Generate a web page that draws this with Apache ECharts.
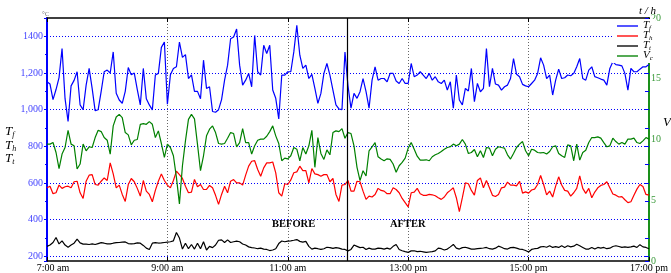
<!DOCTYPE html>
<html>
<head>
<meta charset="utf-8">
<script src="https://cdn.jsdelivr.net/npm/echarts@6/dist/echarts.min.js"></script>
<style>
html, body { margin: 0; padding: 0; background: #fff; }
#chart { width: 671px; height: 273px; }
</style>
</head>
<body>
<div id="chart"></div>
<script>
// samples every 3 minutes from 7:00 to 17:00
const STEP = 3
const xLabels = ['7:00 am', '9:00 am', '11:00 am', '13:00 pm', '15:00 pm', '17:00 pm']
const leftLabels = { 200: '200', 400: '400', 600: '600', 800: '800', 1000: '1,000', 1200: '1,200', 1400: '1400' }
const splitAt = 299 // minute of the before / after line

// T_f  (left axis, °C)
const Tf = [
  1152, 1140, 1055, 1110, 1175, 1333, 1060, 936, 1130, 1160,
  1207, 1026, 1000, 1134, 1225, 1116, 994, 1000, 1100, 1207,
  1216, 1200, 1315, 1090, 1053, 1035, 1100, 1230, 1190, 1200,
  1110, 1026, 1225, 1060, 1026, 999, 1189, 1198, 1340, 1369,
  1030, 1190, 1225, 1234, 1369, 1285, 1300, 1170, 1190, 1100,
  1100, 1060, 1270, 1116, 1125, 990, 986, 1000, 1055, 1161,
  1243, 1387, 1396, 1440, 1243, 1134, 1161, 1198, 1125, 1405,
  1207, 1189, 1351, 1306, 1351, 1107, 1062, 950, 1189, 1189,
  1207, 1207, 1315, 1460, 1297, 1225, 1243, 1170, 1193, 1116,
  1035, 1089, 1198, 1252, 1189, 1107, 1026, 1004, 1000, 1315,
  1130, 1008, 1089, 1062, 1098, 1170, 1098, 1008, 1161, 1234,
  1161, 1170, 1170, 1152, 1198, 1198, 1156, 1143, 1170, 1143,
  1143, 1252, 1180, 1189, 1207, 1189, 1170, 1198, 1161, 1180,
  1152, 1143, 1161, 1107, 1152, 1008, 1189, 1053, 1026, 1116,
  1102, 1225, 1044, 1143, 1098, 1116, 1333, 1125, 1225, 1140,
  1134, 1107, 1125, 1134, 1170, 1279, 1193, 1180, 1138, 1130,
  1125, 1143, 1161, 1198, 1283, 1243, 1170, 1189, 1080, 1161,
  1221, 1170, 1174, 1189, 1185, 1198, 1234, 1279, 1170, 1161,
  1216, 1234, 1180, 1174, 1167, 1161, 1134, 1225, 1261, 1246,
  1243, 1239, 1198, 1107, 1225, 1207, 1207, 1221, 1234, 1234,
  1246
]

// T_h  (left axis, °C)
const Th = [
  574, 583, 542, 547, 589, 571, 580, 583, 574, 607,
  610, 547, 516, 610, 643, 646, 592, 589, 610, 628,
  614, 710, 650, 574, 589, 538, 500, 592, 625, 607,
  571, 529, 614, 556, 538, 498, 560, 610, 650, 614,
  589, 574, 614, 665, 646, 625, 583, 547, 551, 620,
  580, 592, 565, 565, 587, 574, 533, 484, 538, 583,
  547, 610, 619, 601, 601, 589, 643, 692, 719, 722,
  674, 637, 683, 710, 710, 715, 656, 547, 529, 596,
  592, 617, 656, 661, 692, 668, 668, 601, 679, 650,
  646, 637, 646, 646, 607, 625, 538, 500, 589, 592,
  614, 556, 556, 610, 607, 556, 511, 529, 524, 538,
  571, 560, 556, 542, 542, 574, 565, 547, 516, 493,
  470, 547, 551, 571, 542, 533, 533, 538, 536, 531,
  520, 511, 524, 547, 560, 574, 520, 444, 520, 601,
  596, 560, 534, 614, 628, 574, 614, 574, 533, 527,
  538, 574, 578, 605, 589, 589, 585, 610, 545, 552,
  545, 562, 567, 592, 641, 592, 536, 556, 524, 583,
  634, 589, 560, 556, 529, 547, 571, 639, 571, 544,
  571, 520, 551, 574, 587, 592, 607, 574, 540, 534,
  524, 526, 509, 493, 498, 534, 567, 592, 581, 538,
  534
]

// T_t  (left axis, °C)
const Tt = [
  255, 262, 276, 303, 268, 285, 262, 250, 262, 272,
  294, 274, 267, 267, 265, 268, 265, 270, 275, 272,
  268, 268, 272, 275, 276, 278, 279, 270, 268, 270,
  274, 272, 260, 245, 238, 272, 275, 273, 274, 276,
  278, 280, 285, 330, 300, 240, 272, 242, 265, 240,
  272, 242, 280, 235, 255, 248, 262, 288, 290, 276,
  290, 276, 280, 283, 280, 268, 262, 252, 248, 246,
  242, 245, 240, 238, 232, 235, 242, 270, 284, 280,
  283, 285, 288, 292, 282, 278, 282, 255, 240, 245,
  242, 238, 242, 250, 248, 244, 248, 245, 240, 238,
  230, 238, 262, 255, 248, 250, 238, 245, 240, 240,
  245, 244, 240, 245, 240, 255, 265, 238, 231, 226,
  222, 230, 231, 226, 228, 225, 222, 224, 226, 230,
  245, 242, 235, 240, 252, 265, 245, 240, 248, 250,
  245, 240, 240, 242, 244, 246, 249, 242, 240, 245,
  256, 250, 242, 240, 248, 249, 245, 240, 238, 232,
  224, 238, 242, 244, 252, 254, 250, 258, 249, 253,
  249, 258, 249, 258, 252, 256, 266, 258, 249, 240,
  240, 249, 240, 249, 245, 249, 242, 245, 254, 258,
  254, 249, 252, 249, 252, 256, 249, 264, 252, 249,
  242
]

// V_c  (right axis)
const Vc = [
  9.62, 9.62, 9.75, 8.93, 7.6, 8.8, 9.34, 10.76, 9.62, 9.48,
  7.57, 7.98, 9.62, 9.07, 9.4, 9.34, 10.16, 10.76, 10.65, 10.16,
  9.94, 8.8, 11.12, 11.85, 12.07, 11.8, 10.57, 10.38, 9.56, 9.94,
  10.0, 11.25, 11.3, 11.25, 11.47, 11.25, 10.16, 10.71, 9.67, 8.52,
  9.62, 9.34, 8.66, 6.88, 4.7, 7.84, 9.89, 11.66, 12.07, 11.7,
  9.6, 7.43, 8.66, 10.3, 10.85, 11.12, 10.57, 9.67, 9.62, 9.67,
  10.1, 10.57, 10.49, 9.4, 9.75, 10.9, 9.75, 9.75, 8.8, 9.48,
  9.94, 10.03, 10.03, 10.27, 10.65, 11.12, 10.3, 9.67, 8.25, 8.47,
  8.41, 8.66, 9.34, 9.2, 8.25, 9.34, 8.8, 9.48, 10.76, 7.71,
  10.16, 8.85, 8.36, 9.15, 8.74, 10.57, 10.71, 10.65, 10.9, 10.1,
  10.57, 10.49, 9.48, 7.71, 6.61, 7.43, 7.0, 9.07, 9.4, 9.75,
  8.58, 8.39, 8.25, 8.41, 8.36, 7.98, 7.3, 7.84, 8.11, 8.47,
  9.29, 9.75, 9.2, 8.63, 8.3, 8.3, 8.33, 8.25, 8.58, 8.74,
  8.85, 9.01, 9.2, 9.34, 9.4, 9.62, 9.48, 9.62, 10.0, 9.62,
  8.85, 8.93, 9.18, 8.58, 9.07, 8.52, 9.34, 9.29, 8.66, 9.2,
  9.4, 9.34, 9.29, 8.74, 8.39, 8.85, 9.34, 9.62, 9.83, 9.07,
  8.66, 9.2, 9.12, 8.93, 8.9, 8.93, 8.8, 9.01, 9.4, 9.48,
  8.85, 8.66, 8.52, 9.56, 9.48, 8.25, 9.62, 8.3, 8.93, 9.12,
  9.75, 10.16, 10.16, 10.22, 10.11, 9.75, 9.4, 9.48, 10.11, 9.83,
  9.62, 9.75, 9.62, 10.03, 10.03, 10.11, 9.75, 9.67, 9.89, 10.16,
  10.03
]

const minutes = Tf.map((v, i) => i * STEP)
const pairs = arr => arr.map((v, i) => [minutes[i], v])

const serif = 'Liberation Serif'
const sub = {
  m: { fontFamily: serif, fontStyle: 'italic', fontSize: 11, color: '#000', verticalAlign: 'top' },
  s: { fontFamily: serif, fontStyle: 'italic', fontSize: 7, color: '#000', padding: [5, 0, 0, 0] }
}
const subBig = {
  m: { fontFamily: serif, fontStyle: 'italic', fontSize: 13, color: '#000', verticalAlign: 'top' },
  s: { fontFamily: serif, fontStyle: 'italic', fontSize: 8, color: '#000', padding: [6, 0, 0, 0] }
}
const subName = n => '{m|' + n[0] + '}{s|' + n.slice(1) + '}'

// extra tick-only axes (every 100 °C)
const tickAxis = (pos, inside) => ({
  type: 'value', position: pos, min: 175, max: 1500, splitNumber: 13,
  axisLine: { show: false, onZero: false },
  axisTick: { show: true, inside: inside, length: inside ? 4 : 2, lineStyle: { color: '#0000ff' } },
  axisLabel: { show: false },
  splitLine: { show: false }
})

var myChart = echarts.init(document.getElementById('chart'))
myChart.setOption({
  animation: false,
  backgroundColor: '#fff',
  grid: { left: 47, right: 13, top: 18, bottom: 11 },
  legend: {
    data: ['Tf', 'Th', 'Tt', 'Vc'],
    orient: 'vertical',
    left: 612, top: 19,
    backgroundColor: '#fff',
    padding: [1, 3, 1, 5],
    icon: 'path://M0,0 L22,0 L22,1.4 L0,1.4 Z',
    itemWidth: 21, itemHeight: 10, itemGap: -2,
    formatter: subName,
    textStyle: { rich: sub }
  },
  xAxis: [
    {
      type: 'value', min: 0, max: 600, interval: 120, position: 'bottom',
      axisLine: { onZero: false, lineStyle: { color: '#000', width: 1.5 } },
      axisTick: { inside: true, length: 4, lineStyle: { color: '#000' } },
      axisLabel: {
        color: '#000', fontFamily: serif, fontSize: 10, margin: 2,
        formatter: v => v === 0 ? '{f|' + xLabels[0] + '}' : xLabels[v / 120],
        rich: { f: { fontFamily: serif, fontSize: 10, color: '#000', padding: [0, 0, 0, 12] } }
      },
      splitLine: { show: true, showMinLine: false, showMaxLine: false, lineStyle: { color: '#666', type: [1, 2] } }
    },
    {
      type: 'value', min: 0, max: 600, interval: 120, position: 'top',
      axisLine: { onZero: false, lineStyle: { color: '#000', width: 1.5 } },
      axisTick: { inside: true, length: 4, lineStyle: { color: '#000' } },
      axisLabel: { show: false },
      splitLine: { show: false }
    }
  ],
  yAxis: [
    {
      type: 'value', position: 'left', min: 175, max: 1500, splitNumber: 7,
      axisLine: { show: true, onZero: false, lineStyle: { color: '#0000ff', width: 2 } },
      axisTick: { show: true, length: 3, lineStyle: { color: '#0000ff' } },
      axisLabel: {
        color: '#4444ff', fontFamily: serif, fontSize: 10, margin: 4,
        formatter: v => leftLabels[v] || ''
      },
      splitLine: { show: true, showMinLine: false, showMaxLine: false, lineStyle: { color: '#0000ff', type: [1, 2], width: 1 } }
    },
    {
      type: 'value', position: 'right', min: 0, max: 20, interval: 5,
      axisLine: { show: true, onZero: false, lineStyle: { color: '#1a8f1a', width: 2 } },
      axisTick: { show: false },
      axisLabel: { color: '#3a9a3a', fontFamily: serif, fontSize: 10, margin: 2 },
      splitLine: { show: false }
    },
    tickAxis('right', true),
    tickAxis('left', false)
  ],
  graphic: [
    { type: 'text', left: 42, top: 11, style: { text: '°C', fontSize: 7, fill: '#777', fontFamily: serif } },
    { type: 'text', left: 639, top: 6, style: { text: 't / h', fontSize: 11, fontStyle: 'italic', fill: '#000', fontFamily: serif } },
    { type: 'text', left: 663, top: 116, style: { text: 'V', fontSize: 13, fontStyle: 'italic', fill: '#000', fontFamily: serif } },
    { type: 'text', left: 5, top: 125, style: { text: subName('Tf'), rich: subBig } },
    { type: 'text', left: 5, top: 139, style: { text: subName('Th'), rich: subBig } },
    { type: 'text', left: 5, top: 152, style: { text: subName('Tt'), rich: subBig } },
    { type: 'text', left: 272, top: 219, style: { text: 'BEFORE', fontSize: 10.5, fontWeight: 'bold', fill: '#000', fontFamily: serif } },
    { type: 'text', left: 390, top: 219, style: { text: 'AFTER', fontSize: 10.5, fontWeight: 'bold', fill: '#000', fontFamily: serif } }
  ],
  series: [
    {
      name: 'Tt', type: 'line', yAxisIndex: 0, data: pairs(Tt), symbol: 'none',
      lineStyle: { color: '#000', width: 1.2 }, itemStyle: { color: '#000' },
      markLine: {
        silent: true, symbol: ['none', 'none'], label: { show: false },
        lineStyle: { color: '#000', type: 'solid', width: 1.2 },
        data: [{ xAxis: splitAt }]
      }
    },
    {
      name: 'Th', type: 'line', yAxisIndex: 0, data: pairs(Th), symbol: 'none',
      lineStyle: { color: '#ff0000', width: 1.2 }, itemStyle: { color: '#ff0000' }
    },
    {
      name: 'Tf', type: 'line', yAxisIndex: 0, data: pairs(Tf), symbol: 'none',
      lineStyle: { color: '#0000ff', width: 1.2 }, itemStyle: { color: '#0000ff' }
    },
    {
      name: 'Vc', type: 'line', yAxisIndex: 1, data: pairs(Vc), symbol: 'none',
      lineStyle: { color: '#008000', width: 1.2 }, itemStyle: { color: '#008000' }
    }
  ]
})
</script>
</body>
</html>
